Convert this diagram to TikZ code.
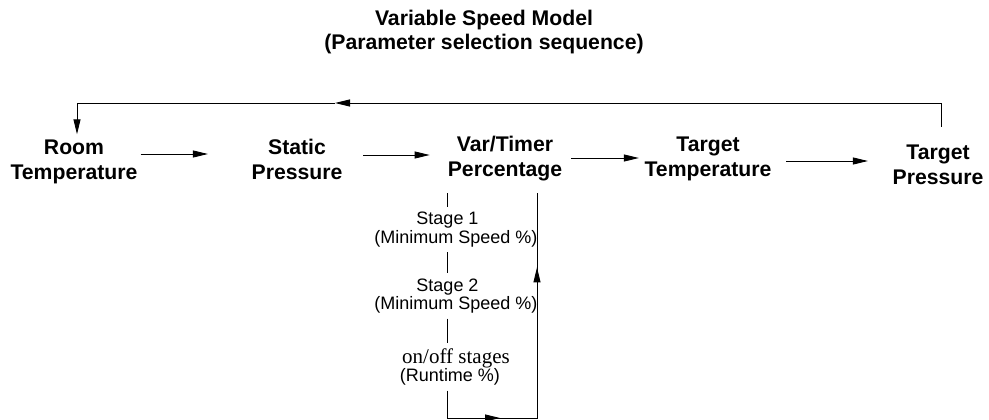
\documentclass[tikz,border=0pt]{standalone}
\usepackage{fontspec}
\setmainfont{Liberation Sans}
\newfontfamily\serifnode{Liberation Serif}
\usetikzlibrary{arrows.meta,calc}
\begin{document}
\begin{tikzpicture}[x=1pt,y=-1pt,
  titlestyle/.style={font=\bfseries\fontsize{21.2}{24}\selectfont, align=center, inner sep=0pt},
  lbl/.style={font=\bfseries\fontsize{21.2}{25}\selectfont, align=center, inner sep=0pt},
  sub/.style={font=\fontsize{18}{18.5}\selectfont, align=center, inner sep=5pt},
  ln/.style={line width=0.9pt},
  arr/.style={line width=0.9pt, -{Triangle[length=15pt,width=7pt]}}]
\useasboundingbox (0,0) rectangle (989,420);

\node[titlestyle] (title) at (484,32) {Variable Speed Model\\(Parameter selection sequence)};

\node[lbl] (room)   at (74,161.5)  {Room\\Temperature};
\node[lbl] (static) at (297,159)   {Static\\Pressure};
\node[lbl] (var)    at (505,158.5) {Var/Timer\\Percentage};
\node[lbl] (ttemp)  at (708,159)   {Target\\Temperature};
\node[lbl] (tpress) at (938,165)   {Target\\Pressure};

% horizontal sequence arrows
\draw[arr] ($(room.east)+(3,-7.5)$) -- ($(static.west)+(-43.5,-5)$);
\draw[arr] ($(static.east)+(20.5,-4)$) -- ($(var.west)+(-18,-3.5)$);
\draw[arr] ($(var.east)+(9,-0.5)$) -- ($(ttemp.west)+(-5.5,-1)$);
\draw[arr] ($(ttemp.east)+(14.5,2)$) -- ($(tpress.west)+(-24.5,-4)$);

% feedback loop
\coordinate (fbm) at (335,103);
\draw[arr] ($(tpress.north)+(3,-18)$) |- (fbm);
\draw[arr] (fbm) -| ($(room.north)+(3,-5)$);

% vertical chain under Var/Timer Percentage
\coordinate (bl) at (447,418);
\coordinate (br) at (537,418);
\node[sub] (s1) at (456,229.5) {\mbox{Stage 1\hspace{17pt}}\\(Minimum Speed \%)};
\node[sub] (s2) at (456,296) {\mbox{Stage 2\hspace{17pt}}\\(Minimum Speed \%)};
\node[sub] (onoff) at (456,367) {{\serifnode\fontsize{21}{20}\selectfont on/off stages}\\\mbox{(Runtime \%)\hspace{12pt}}};

\draw[ln] ($(var.south -| bl)+(0,12)$) -- (s1.north -| bl);
\draw[ln] (s1.south -| bl) -- (s2.north -| bl);
\draw[ln] (s2.south -| bl) -- (onoff.north -| bl);
\draw[ln] (onoff.south -| bl) -- (bl) -- (br) -- ($(var.south -| br)+(0,12)$);
\draw[arr] (bl) -- ($(bl)+(53,0)$);
\draw[arr] (br) -- ($(s2.north -| br)+(0,-6)$);
\end{tikzpicture}
\end{document}
